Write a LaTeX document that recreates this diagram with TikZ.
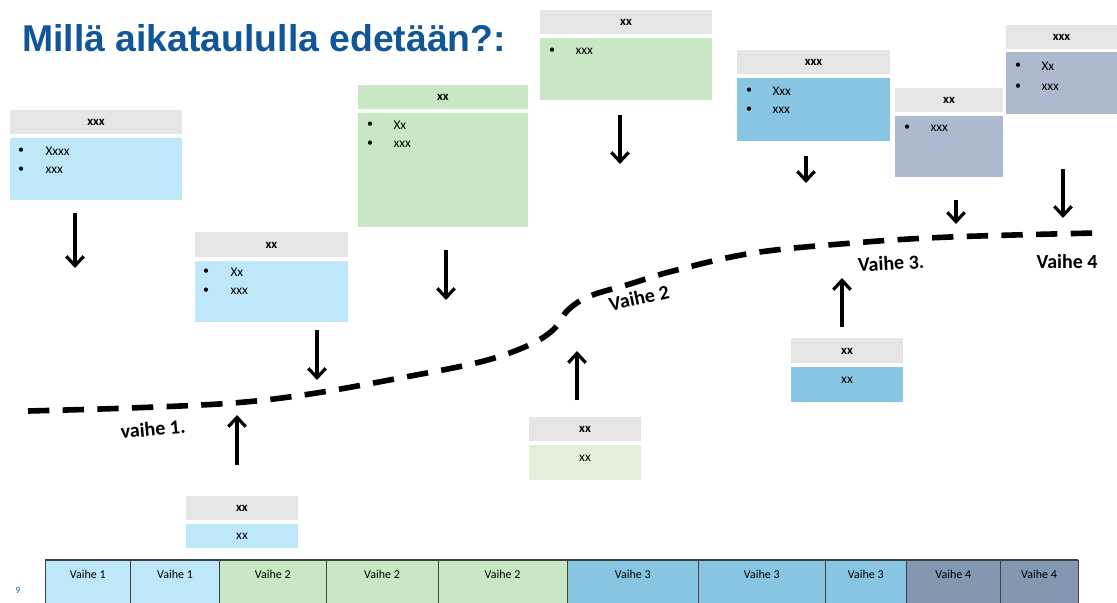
\documentclass[tikz,border=0pt]{standalone}
\usepackage{fontspec}
\setmainfont{Carlito}
\newfontfamily\titlefont{Liberation Sans}
\usetikzlibrary{arrows.meta}

\definecolor{titleblue}{HTML}{12569A}
\definecolor{hdrgray}{HTML}{E6E5E6}
\definecolor{lightblue}{HTML}{BEE7FA}
\definecolor{midblue}{HTML}{87C5E2}
\definecolor{slate}{HTML}{ADB9CE}
\definecolor{slatedark}{HTML}{8497B0}
\definecolor{leafgreen}{HTML}{C9E6C5}
\definecolor{palegreen}{HTML}{E2F0D9}
\definecolor{tableline}{HTML}{404040}

\tikzset{every picture/.style={line width=0.75pt},
  hdr/.style={inner sep=0, font=\bfseries\fontsize{9.5}{11}\selectfont},
  bul/.style={inner sep=0, font=\fontsize{9}{10}\selectfont},
  item/.style={anchor=west, inner sep=0, font=\fontsize{10}{12}\selectfont},
  fase/.style={inner sep=0, font=\bfseries\fontsize{15}{18}\selectfont},
  tabtext/.style={inner sep=0, font=\fontsize{9}{11}\selectfont},
  pil/.style={line width=2.4pt, -{Straight Barb[length=7pt,width=13pt]}},
  kurve/.style={line width=4.2pt, dash pattern=on 16pt off 10pt}
}

\begin{document}
\begin{tikzpicture}[x=0.75pt,y=0.75pt,yscale=-1,xscale=1]
	\useasboundingbox (0,0) rectangle (1117,603);

	% Text Node
	\node [anchor=base west, inner sep=0, text=titleblue, font=\titlefont\bfseries\fontsize{28}{32}\selectfont] (title) at (22,51) {Millä aikataululla edetään?:};

	%Shape: Rectangle [card A]
	\fill [hdrgray] (10,110) rectangle (182,134);
	\fill [lightblue] (10,138) rectangle (182,200);
	\node [hdr] (hA) at (96,122) {xxx};
	\node [bul] (bA1) at (21,151) {\textbullet};
	\node [item] (iA1) at (45,151) {Xxxx};
	\node [bul] (bA2) at (21,170) {\textbullet};
	\node [item] (iA2) at (45,170) {xxx};

	%Shape: Rectangle [card B]
	\fill [hdrgray] (195,232) rectangle (348,257);
	\fill [lightblue] (195,261) rectangle (348,322);
	\node [hdr] (hB) at (271.5,245) {xx};
	\node [bul] (bB1) at (206,272) {\textbullet};
	\node [item] (iB1) at (230,272) {Xx};
	\node [bul] (bB2) at (206,291) {\textbullet};
	\node [item] (iB2) at (230,291) {xxx};

	%Shape: Rectangle [card C]
	\fill [leafgreen] (358,85) rectangle (528,109);
	\fill [leafgreen] (358,113) rectangle (528,227);
	\node [hdr] (hC) at (443,97) {xx};
	\node [bul] (bC1) at (370,125) {\textbullet};
	\node [item] (iC1) at (393,125) {Xx};
	\node [bul] (bC2) at (370,144) {\textbullet};
	\node [item] (iC2) at (393,144) {xxx};

	%Shape: Rectangle [card D]
	\fill [hdrgray] (540,10) rectangle (712,34);
	\fill [leafgreen] (540,38) rectangle (712,100);
	\node [hdr] (hD) at (626,22) {xx};
	\node [bul] (bD1) at (552,51) {\textbullet};
	\node [item] (iD1) at (575,51) {xxx};

	%Shape: Rectangle [card E]
	\fill [hdrgray] (737,50) rectangle (890,74);
	\fill [midblue] (737,78) rectangle (890,141);
	\node [hdr] (hE) at (813.5,62) {xxx};
	\node [bul] (bE1) at (749,91) {\textbullet};
	\node [item] (iE1) at (772,91) {Xxx};
	\node [bul] (bE2) at (749,110) {\textbullet};
	\node [item] (iE2) at (772,110) {xxx};

	%Shape: Rectangle [card F]
	\fill [hdrgray] (895,88) rectangle (1003,112);
	\fill [slate] (895,116) rectangle (1003,177);
	\node [hdr] (hF) at (949,100) {xx};
	\node [bul] (bF1) at (907,128) {\textbullet};
	\node [item] (iF1) at (930,128) {xxx};

	%Shape: Rectangle [card G]
	\fill [hdrgray] (1006,25) rectangle (1117,49);
	\fill [slate] (1006,52) rectangle (1117,114);
	\node [hdr] (hG) at (1061.5,37) {xxx};
	\node [bul] (bG1) at (1018,66) {\textbullet};
	\node [item] (iG1) at (1041,66) {Xx};
	\node [bul] (bG2) at (1018,87) {\textbullet};
	\node [item] (iG2) at (1041,87) {xxx};

	%Shape: Rectangle [card H]
	\fill [hdrgray] (186,496) rectangle (298,520);
	\fill [lightblue] (186,524) rectangle (298,548);
	\node [hdr] (hH) at (242,508) {xx};
	\node [item, anchor=center] (iH) at (242,536) {xx};

	%Shape: Rectangle [card I]
	\fill [hdrgray] (529,417) rectangle (641,441);
	\fill [palegreen] (529,445) rectangle (641,480);
	\node [hdr] (hI) at (585,429) {xx};
	\node [item, anchor=center] (iI) at (585,458) {xx};

	%Shape: Rectangle [card J]
	\fill [hdrgray] (791,338) rectangle (903,363);
	\fill [midblue] (791,367) rectangle (903,402);
	\node [hdr] (hJ) at (847,351) {xx};
	\node [item, anchor=center] (iJ) at (847,380) {xx};

	%Curve: dashed phase line
	\draw [kurve] plot [smooth, tension=0.6] coordinates {(28,411) (130,408) (233,403) (310,394) (400,378) (480,362) (527,346) (553,330) (568,310) (590,296) (630,284) (673,271) (753,253) (853,243) (950,237) (1095,233)};

	% Text Node
	\node [fase, rotate=5] (v1) at (153,429) {vaihe 1.};
	\node [fase, rotate=12] (v2) at (639,298) {Vaihe 2};
	\node [fase, rotate=3] (v3) at (891,263) {Vaihe 3.};
	\node [fase] (v4) at (1067,262) {Vaihe 4};

	%Straight Lines: arrows
	\foreach \n/\x/\ya/\yb in {d1/75/213/268, d2/317/330/380, d3/446/250/300, d4/620/115/164, d5/806/156/183, d6/956/200/224, d7/1063/169/218, u1/237/465/415, u2/577/400/351, u3/842/327/278}
	{
		\coordinate (\n-a) at (\x,\ya);
		\coordinate (\n-b) at (\x,\yb);
		\draw [pil] (\n-a) -- (\n-b);
	}

	%Shape: Table
	\foreach \i/\xa/\xb/\c/\t in {1/45/130.5/lightblue/Vaihe 1, 2/130.5/219.5/lightblue/Vaihe 1, 3/219.5/326/leafgreen/Vaihe 2, 4/326/438/leafgreen/Vaihe 2, 5/438/567/leafgreen/Vaihe 2, 6/567/698.5/midblue/Vaihe 3, 7/698.5/825/midblue/Vaihe 3, 8/825/906.5/midblue/Vaihe 3, 9/906.5/1000/slatedark/Vaihe 4, 10/1000/1078/slatedark/Vaihe 4}
	{
		\fill [\c] (\xa,560) rectangle (\xb,603);
		\draw [tableline] (\xa,560) -- (\xa,603);
		\node [tabtext] (col\i) at ({(\xa+\xb)/2},574) {\t};
	}
	\draw [tableline] (1078,560) -- (1078,603);
	\draw [tableline, line width=1.2pt] (45,560) -- (1078,560);

	% Text Node
	\node [inner sep=0, text=titleblue, font=\fontsize{7}{8}\selectfont] (page) at (18,590) {9};

\end{tikzpicture}
\end{document}
